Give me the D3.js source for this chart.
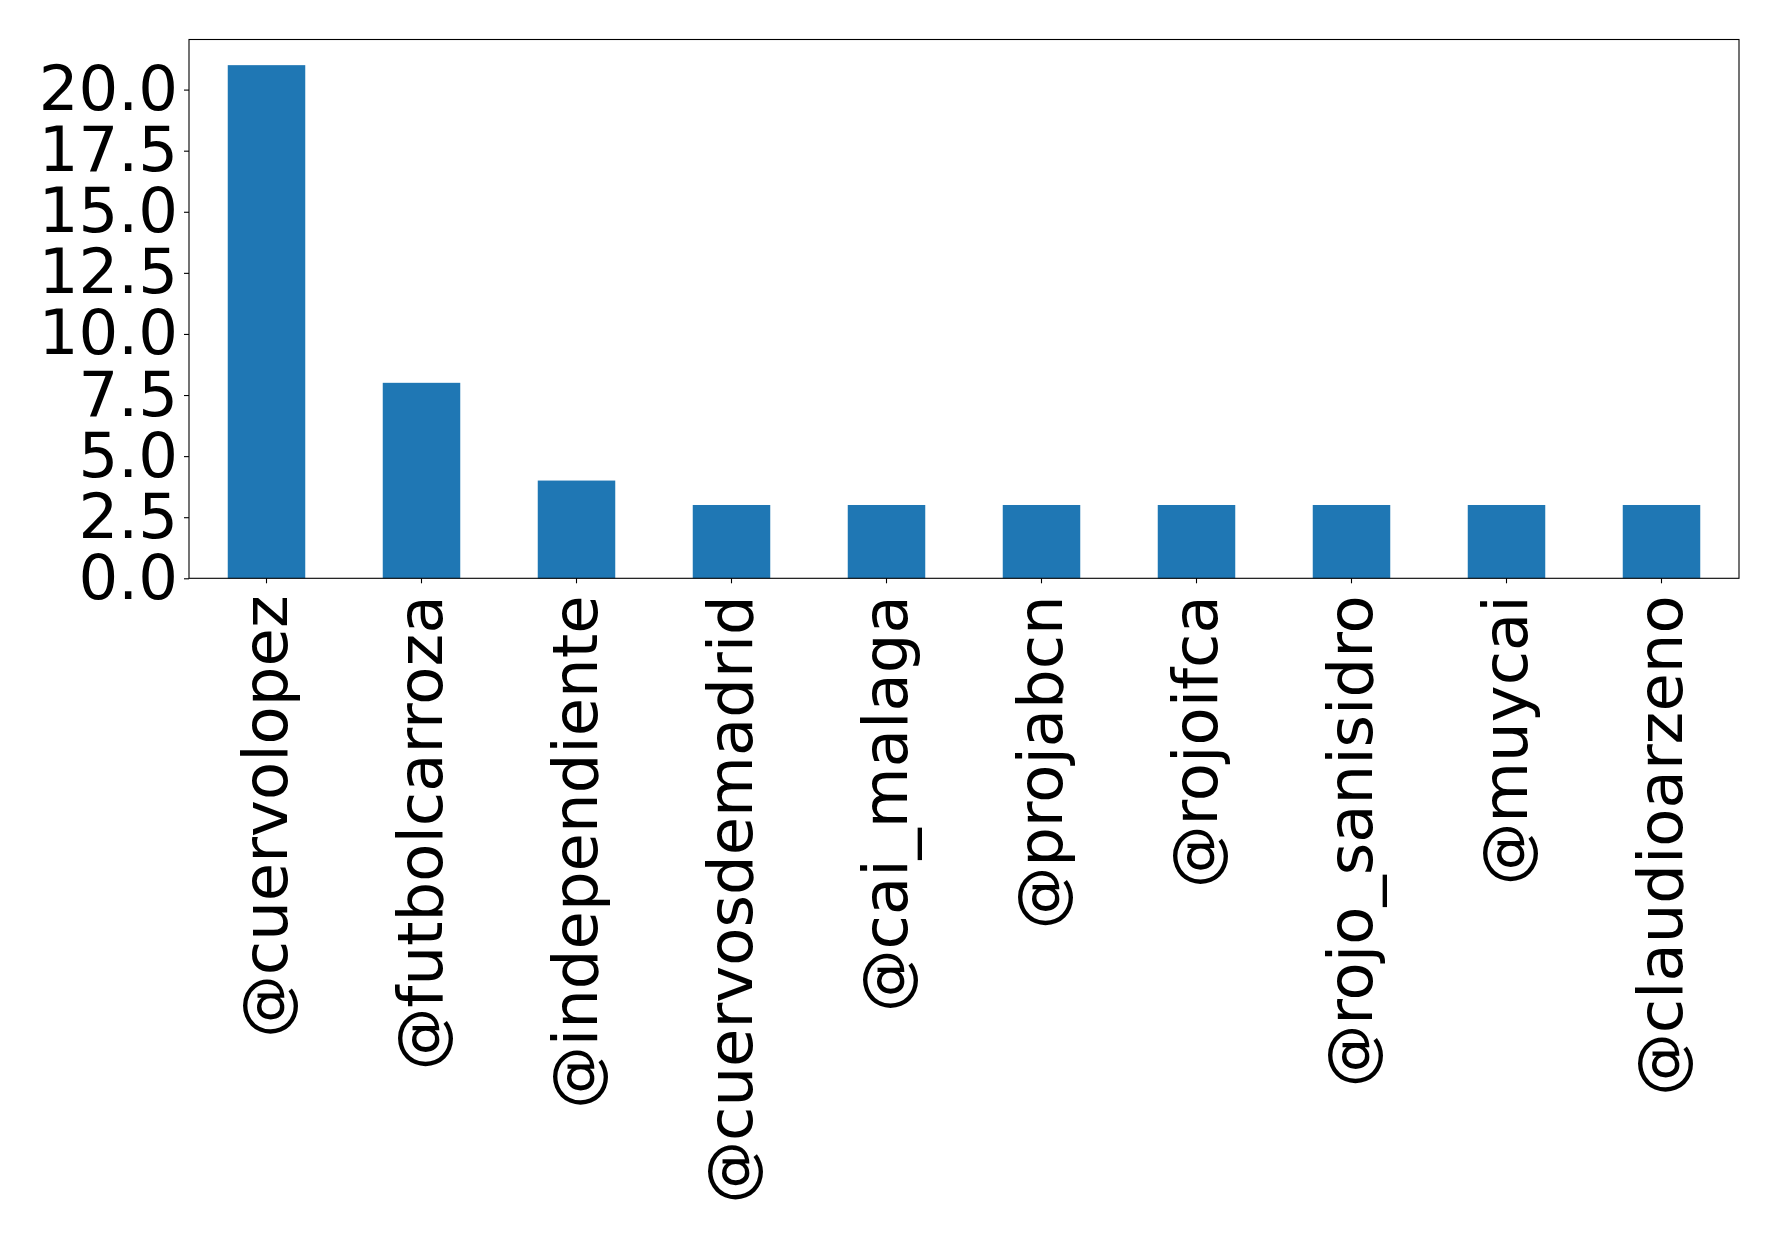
<!DOCTYPE html>
<html>
<head>
<meta charset="utf-8">
<script src="https://cdn.jsdelivr.net/npm/d3@7"></script>
<style>
  body { margin: 0; background: #fff; }
  text { font-family: "DejaVu Sans", sans-serif; }
</style>
</head>
<body>
<script>
// chart size
var w = 1778;
var h = 1236;

// data
var users = ['@cuervolopez', '@futbolcarroza', '@independiente', '@cuervosdemadrid',
             '@cai_malaga', '@projabcn', '@rojoifca', '@rojo_sanisidro', '@muycai', '@claudioarzeno'];
var counts = [21, 8, 4, 3, 3, 3, 3, 3, 3, 3];
var yTicks = [0, 2.5, 5, 7.5, 10, 12.5, 15, 17.5, 20];

// plot box (window.top is reserved, so use own names)
var plotLeft = 189, plotRight = 1739, plotTop = 39.5, plotBottom = 578.3;
var fontPx = "62.5px";

var xScale = d3.scaleBand()
               .domain(d3.range(users.length))
               .range([plotLeft, plotRight])
               .paddingInner(0.5)
               .paddingOuter(0.25);

var yScale = d3.scaleLinear()
               .domain([0, 22.05])
               .range([plotBottom, plotTop]);

var svg = d3.select("body")
            .append("svg")
            .attr("width", w)
            .attr("height", h);

// bars
svg.selectAll("rect.bar")
   .data(counts)
   .enter()
   .append("rect")
   .attr("class", "bar")
   .attr("x", function(d, i) { return xScale(i); })
   .attr("y", function(d) { return yScale(d); })
   .attr("width", xScale.bandwidth())
   .attr("height", function(d) { return plotBottom - yScale(d); })
   .attr("fill", "#1f77b4");

// y axis
var yAxis = d3.axisLeft(yScale)
              .tickValues(yTicks)
              .tickFormat(d3.format(".1f"))
              .tickSize(5)
              .tickPadding(6);

svg.append("g")
   .attr("transform", "translate(" + plotLeft + ",0)")
   .call(yAxis)
   .call(function(g) { g.select(".domain").remove(); })
   .selectAll("text")
   .attr("font-size", fontPx)
   .attr("fill", "#000")
   .attr("font-family", "DejaVu Sans");

// x axis, labels turned upright
var xAxis = d3.axisBottom(xScale)
              .tickFormat(function(i) { return users[i]; })
              .tickSize(5);

svg.append("g")
   .attr("transform", "translate(0," + plotBottom + ")")
   .call(xAxis)
   .call(function(g) { g.select(".domain").remove(); })
   .selectAll("text")
   .attr("font-size", fontPx)
   .attr("fill", "#000")
   .attr("font-family", "DejaVu Sans")
   .attr("text-anchor", "end")
   .attr("transform", "translate(0,17) rotate(-90)")
   .attr("x", 0)
   .attr("y", 0)
   .attr("dy", "0.33em");

svg.selectAll(".tick line").attr("stroke", "#000").attr("stroke-width", 1.1);

// frame
svg.append("rect")
   .attr("x", plotLeft)
   .attr("y", plotTop)
   .attr("width", plotRight - plotLeft)
   .attr("height", plotBottom - plotTop)
   .attr("fill", "none")
   .attr("stroke", "#000")
   .attr("stroke-width", 1.1);
</script>
</body>
</html>
